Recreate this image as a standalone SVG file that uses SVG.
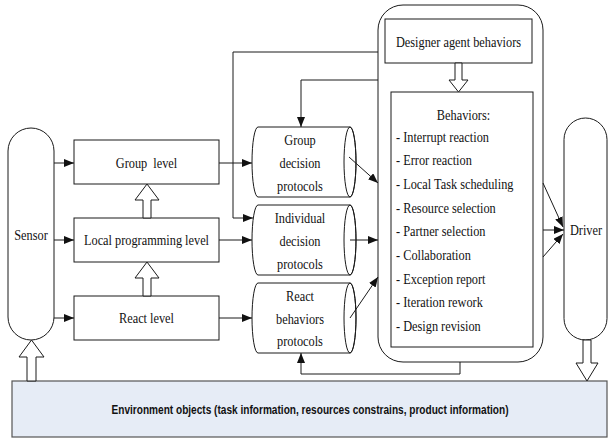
<svg xmlns="http://www.w3.org/2000/svg" width="608" height="438" viewBox="0 0 608 438">
<defs>
<style>
.s{fill:#fff;stroke:#1a1a1a;stroke-width:1}
.t{font-family:"Liberation Serif","Times New Roman",serif;font-size:14px;fill:#111}
.c{text-anchor:middle}
.ln{fill:none;stroke:#1a1a1a;stroke-width:1}
.h{fill:#fff;stroke:#1a1a1a;stroke-width:1}
</style>
<marker id="ah" markerWidth="10" markerHeight="8" refX="10" refY="4" orient="auto" markerUnits="userSpaceOnUse">
<path d="M0,0 L10,4 L0,8 Z" fill="#111"/>
</marker>
</defs>
<rect width="608" height="438" fill="#fff"/>

<g id="environment">
<rect x="12" y="381" width="595" height="56" fill="#e6ecf6" stroke="#555" stroke-width="1.2"/>
<text x="310" y="414" text-anchor="middle" font-family="'Liberation Sans',Arial,sans-serif" font-weight="bold" font-size="12" textLength="397" lengthAdjust="spacingAndGlyphs" fill="#111">Environment objects (task information, resources constrains, product information)</text>
</g>

<g id="sensor">
<rect class="s" x="8" y="128" width="46" height="212" rx="23" ry="23"/>
<text class="t c" transform="translate(31,239.5) scale(0.88,1)">Sensor</text>
</g>

<g id="group-level">
<rect class="s" x="74" y="140" width="145" height="44"/>
<text class="t c" transform="translate(146.5,167.5) scale(0.88,1)">Group&#160; level</text>
</g>
<g id="local-level">
<rect class="s" x="74" y="218" width="145" height="44"/>
<text class="t c" transform="translate(146.5,244.5) scale(0.88,1)">Local programming level</text>
</g>
<g id="react-level">
<rect class="s" x="74" y="296" width="145" height="44"/>
<text class="t c" transform="translate(146.5,322.5) scale(0.88,1)">React level</text>
</g>

<g id="group-decision">
<path class="s" d="M258,127 L350,127 A6,35 0 0,1 350,197 L258,197 A6,35 0 0,1 258,127 Z"/>
<ellipse class="ln" cx="350" cy="162" rx="6" ry="35"/>
<text class="t c" transform="translate(300,144.5) scale(0.88,1)">Group</text>
<text class="t c" transform="translate(300,167.5) scale(0.88,1)">decision</text>
<text class="t c" transform="translate(300,190.5) scale(0.88,1)">protocols</text>
</g>
<g id="individual-decision">
<path class="s" d="M258,205 L350,205 A6,35 0 0,1 350,275 L258,275 A6,35 0 0,1 258,205 Z"/>
<ellipse class="ln" cx="350" cy="240" rx="6" ry="35"/>
<text class="t c" transform="translate(300,222.5) scale(0.88,1)">Individual</text>
<text class="t c" transform="translate(300,245.5) scale(0.88,1)">decision</text>
<text class="t c" transform="translate(300,268.5) scale(0.88,1)">protocols</text>
</g>
<g id="react-protocols">
<path class="s" d="M258,283 L350,283 A6,35 0 0,1 350,353 L258,353 A6,35 0 0,1 258,283 Z"/>
<ellipse class="ln" cx="350" cy="318" rx="6" ry="35"/>
<text class="t c" transform="translate(300,300.5) scale(0.88,1)">React</text>
<text class="t c" transform="translate(300,323.5) scale(0.88,1)">behaviors</text>
<text class="t c" transform="translate(300,345.5) scale(0.88,1)">protocols</text>
</g>

<g id="designer-agent">
<rect class="s" x="378" y="5" width="165" height="357" rx="25" ry="25"/>
<g id="designer-behaviors">
<rect class="s" x="385" y="19" width="147" height="44"/>
<text class="t c" transform="translate(458.5,47) scale(0.88,1)">Designer agent behaviors</text>
</g>
<g id="behaviors">
<rect class="s" x="391" y="92" width="142" height="255"/>
<text class="t c" transform="translate(463.5,119.5) scale(0.88,1)">Behaviors:</text>
<text class="t" transform="translate(396,141.5) scale(0.88,1)">- Interrupt reaction</text>
<text class="t" transform="translate(396,165) scale(0.88,1)">- Error reaction</text>
<text class="t" transform="translate(396,188.5) scale(0.88,1)">- Local Task scheduling</text>
<text class="t" transform="translate(396,212.5) scale(0.88,1)">- Resource selection</text>
<text class="t" transform="translate(396,236) scale(0.88,1)">- Partner selection</text>
<text class="t" transform="translate(396,259.5) scale(0.88,1)">- Collaboration</text>
<text class="t" transform="translate(396,283.5) scale(0.88,1)">- Exception report</text>
<text class="t" transform="translate(396,307) scale(0.88,1)">- Iteration rework</text>
<text class="t" transform="translate(396,330.5) scale(0.88,1)">- Design revision</text>
</g>
</g>

<g id="driver">
<rect class="s" x="564" y="118" width="43" height="222" rx="21.5" ry="21.5"/>
<text class="t c" transform="translate(586,234.5) scale(0.88,1)">Driver</text>
</g>

<g id="connectors">
<line class="ln" x1="54" y1="163" x2="74" y2="163" marker-end="url(#ah)"/>
<line class="ln" x1="54" y1="240" x2="74" y2="240" marker-end="url(#ah)"/>
<line class="ln" x1="54" y1="318" x2="74" y2="318" marker-end="url(#ah)"/>
<line class="ln" x1="219" y1="163" x2="252" y2="163" marker-end="url(#ah)"/>
<line class="ln" x1="219" y1="240" x2="252" y2="240" marker-end="url(#ah)"/>
<line class="ln" x1="219" y1="318" x2="252" y2="318" marker-end="url(#ah)"/>
<polyline class="ln" points="378,52 233,52 233,218 253,218" marker-end="url(#ah)"/>
<polyline class="ln" points="378,80 301,80 301,127" marker-end="url(#ah)"/>
<polyline class="ln" points="460,362 460,374 301,374 301,353" marker-end="url(#ah)"/>
<line class="ln" x1="349" y1="157" x2="378" y2="183" marker-end="url(#ah)"/>
<line class="ln" x1="350" y1="240" x2="378" y2="240" marker-end="url(#ah)"/>
<line class="ln" x1="350" y1="318" x2="378" y2="277" marker-end="url(#ah)"/>
<line class="ln" x1="543" y1="183" x2="563" y2="227" marker-end="url(#ah)"/>
<line class="ln" x1="543" y1="230" x2="564" y2="230" marker-end="url(#ah)"/>
<line class="ln" x1="543" y1="257" x2="563" y2="234" marker-end="url(#ah)"/>
<polygon class="h" points="143,218 143,200 135,200 147,184 159,200 151,200 151,218"/>
<polygon class="h" points="143,296 143,278 135,278 147,262 159,278 151,278 151,296"/>
<polygon class="h" points="27,381 27,357 19,357 31.5,340 44,357 36,357 36,381"/>
<polygon class="h" points="455,63 455,80 449,80 458.5,92 468,80 462,80 462,63"/>
<polygon class="h" points="583,340 583,363 576,363 587,381 598,363 591,363 591,340"/>
</g>
</svg>
